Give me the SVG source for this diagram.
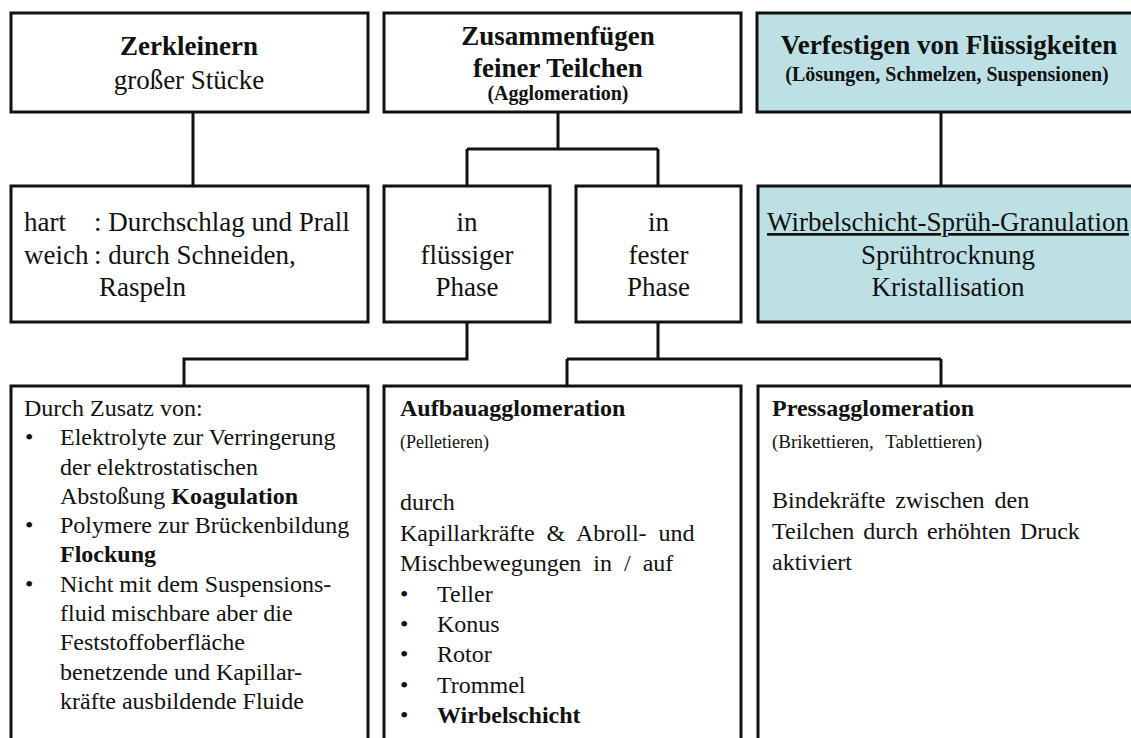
<svg xmlns="http://www.w3.org/2000/svg" width="1131" height="738" viewBox="0 0 1131 738">
<style>
  .box { fill: #ffffff; stroke: #111111; stroke-width: 3; }
  .teal { fill: #bde0e4; stroke: #111111; stroke-width: 3; }
  .conn { fill: none; stroke: #111111; stroke-width: 3; }
  text { font-family: "Liberation Serif", "Times New Roman", serif; fill: #111111; }
  .big { font-size: 27px; }
  .bigb { font-size: 27px; font-weight: bold; }
  .subb { font-size: 20px; font-weight: bold; }
  .body { font-size: 24px; }
  .bodyb { font-size: 24px; font-weight: bold; }
  .small { font-size: 18px; }
  .c { text-anchor: middle; }
</style>
<rect width="1131" height="738" fill="#ffffff"/>

<g id="connectors">
  <path class="conn" d="M193 112 V186"/>
  <path class="conn" d="M558 112 V149 M467 149 H658 M467 149 V186 M658 149 V186"/>
  <path class="conn" d="M941 112 V186"/>
  <path class="conn" d="M467 322 V359 H184 V386"/>
  <path class="conn" d="M658 322 V359 M567 359 H941 M567 359 V386 M941 359 V386"/>
</g>

<g id="zerkleinern">
  <rect class="box" x="11" y="13" width="357" height="99"/>
  <text class="bigb c" x="189" y="55">Zerkleinern</text>
  <text class="big c" x="189" y="89">großer Stücke</text>
</g>

<g id="zusammenfuegen">
  <rect class="box" x="384" y="13" width="357" height="99"/>
  <text class="bigb c" x="558" y="45">Zusammenfügen</text>
  <text class="bigb c" x="558" y="77">feiner Teilchen</text>
  <text class="subb c" x="558" y="100">(Agglomeration)</text>
</g>

<g id="verfestigen">
  <rect class="teal" x="757" y="13" width="381" height="99"/>
  <text class="bigb c" x="949" y="54">Verfestigen von Flüssigkeiten</text>
  <text class="subb c" x="947" y="81">(Lösungen, Schmelzen, Suspensionen)</text>
</g>

<g id="hart-weich">
  <rect class="box" x="11" y="186" width="357" height="136"/>
  <text class="big" x="24" y="231">hart</text>
  <text class="big" x="94" y="231">: Durchschlag und Prall</text>
  <text class="big" x="24" y="264">weich</text>
  <text class="big" x="94" y="264">: durch Schneiden,</text>
  <text class="big" x="99" y="296">Raspeln</text>
</g>

<g id="fluessig">
  <rect class="box" x="384" y="186" width="166" height="136"/>
  <text class="big c" x="467" y="231">in</text>
  <text class="big c" x="467" y="264">flüssiger</text>
  <text class="big c" x="467" y="296">Phase</text>
</g>

<g id="fest">
  <rect class="box" x="576" y="186" width="165" height="136"/>
  <text class="big c" x="658.5" y="231">in</text>
  <text class="big c" x="658.5" y="264">fester</text>
  <text class="big c" x="658.5" y="296">Phase</text>
</g>

<g id="wirbelschicht-spruehgranulation">
  <rect class="teal" x="758" y="186" width="380" height="136"/>
  <text class="big c" x="948" y="231" text-decoration="underline">Wirbelschicht-Sprüh-Granulation</text>
  <text class="big c" x="948" y="264">Sprühtrocknung</text>
  <text class="big c" x="948" y="296">Kristallisation</text>
</g>

<g id="zusatz">
  <rect class="box" x="11" y="386" width="357" height="400"/>
  <text class="body" x="24" y="416">Durch Zusatz von:</text>
  <text class="body" x="25" y="445">•</text>
  <text class="body" x="60" y="445">Elektrolyte zur Verringerung</text>
  <text class="body" x="60" y="475">der elektrostatischen</text>
  <text class="body" x="60" y="504">Abstoßung <tspan class="bodyb">Koagulation</tspan></text>
  <text class="body" x="25" y="533">•</text>
  <text class="body" x="60" y="533">Polymere zur Brückenbildung</text>
  <text class="bodyb" x="60" y="562">Flockung</text>
  <text class="body" x="25" y="592">•</text>
  <text class="body" x="60" y="592">Nicht mit dem Suspensions-</text>
  <text class="body" x="60" y="621">fluid mischbare aber die</text>
  <text class="body" x="60" y="650">Feststoffoberfläche</text>
  <text class="body" x="60" y="680">benetzende und Kapillar-</text>
  <text class="body" x="60" y="709">kräfte ausbildende Fluide</text>
</g>

<g id="aufbauagglomeration">
  <rect class="box" x="384" y="386" width="357" height="400"/>
  <text class="bodyb" x="400" y="416">Aufbauagglomeration</text>
  <text class="small" x="400" y="448">(Pelletieren)</text>
  <text class="body" x="400" y="510">durch</text>
  <text class="body" x="400" y="541" word-spacing="6">Kapillarkräfte &amp; Abroll- und</text>
  <text class="body" x="400" y="571" word-spacing="6">Mischbewegungen in / auf</text>
  <text class="body" x="400" y="602">•</text>
  <text class="body" x="437" y="602">Teller</text>
  <text class="body" x="400" y="632">•</text>
  <text class="body" x="437" y="632">Konus</text>
  <text class="body" x="400" y="662">•</text>
  <text class="body" x="437" y="662">Rotor</text>
  <text class="body" x="400" y="693">•</text>
  <text class="body" x="437" y="693">Trommel</text>
  <text class="body" x="400" y="723">•</text>
  <text class="bodyb" x="437" y="723">Wirbelschicht</text>
</g>

<g id="pressagglomeration">
  <rect class="box" x="758" y="386" width="380" height="400"/>
  <text class="bodyb" x="772" y="416">Pressagglomeration</text>
  <text x="772" y="448" font-size="19" word-spacing="7">(Brikettieren, Tablettieren)</text>
  <text class="body" x="772" y="508" word-spacing="4">Bindekräfte zwischen den</text>
  <text class="body" x="772" y="539" word-spacing="3">Teilchen durch erhöhten Druck</text>
  <text class="body" x="772" y="570">aktiviert</text>
</g>
</svg>
